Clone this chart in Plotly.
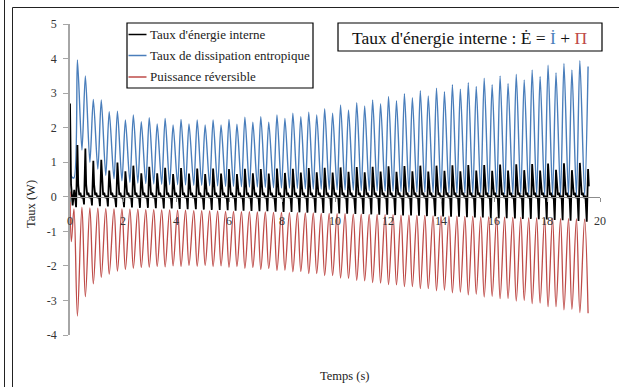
import plotly.graph_objects as go

# ---------------- data ----------------
# time (s) of each oscillation peak
cycle_t = [0.28, 0.58, 0.88, 1.18, 1.48, 1.79, 2.09, 2.39, 2.69, 2.99,
           3.29, 3.59, 3.89, 4.19, 4.49, 4.80, 5.10, 5.40, 5.70, 6.00,
           6.30, 6.60, 6.90, 7.20, 7.50, 7.81, 8.11, 8.41, 8.71, 9.01,
           9.31, 9.61, 9.91, 10.21, 10.51, 10.82, 11.12, 11.42, 11.72, 12.02,
           12.32, 12.62, 12.92, 13.22, 13.52, 13.83, 14.13, 14.43, 14.73, 15.03,
           15.33, 15.63, 15.93, 16.23, 16.53, 16.84, 17.14, 17.44, 17.74, 18.04,
           18.34, 18.64, 18.94, 19.24, 19.55]

# Taux de dissipation entropique (blue): peak and preceding trough per cycle
blue_peak = [3.96, 3.50, 2.82, 2.80, 2.46, 2.48, 2.22, 2.37, 2.17, 2.29,
             2.11, 2.27, 2.08, 2.24, 2.11, 2.22, 2.08, 2.22, 2.08, 2.24,
             2.10, 2.30, 2.16, 2.32, 2.16, 2.37, 2.27, 2.42, 2.32, 2.45,
             2.37, 2.55, 2.42, 2.66, 2.51, 2.72, 2.63, 2.80, 2.69, 2.90,
             2.78, 2.98, 2.87, 3.07, 2.92, 3.14, 3.04, 3.24, 3.11, 3.30,
             3.19, 3.43, 3.24, 3.50, 3.28, 3.55, 3.38, 3.67, 3.48, 3.81,
             3.59, 3.86, 3.67, 3.94, 3.77]
blue_trough = [0.55, 1.35, 1.00, 0.80, 0.62, 0.52, 0.46, 0.42, 0.40, 0.38,
               0.37, 0.36, 0.35, 0.35, 0.34, 0.33, 0.33, 0.32, 0.31, 0.30,
               0.30, 0.29, 0.28, 0.28, 0.27, 0.26, 0.25, 0.25, 0.24, 0.23,
               0.22, 0.22, 0.21, 0.20, 0.20, 0.19, 0.18, 0.18, 0.17, 0.16,
               0.16, 0.15, 0.14, 0.14, 0.13, 0.12, 0.12, 0.11, 0.10, 0.10,
               0.09, 0.09, 0.08, 0.08, 0.07, 0.07, 0.07, 0.06, 0.06, 0.06,
               0.05, 0.05, 0.05, 0.05, 0.05]

# Puissance réversible (red): trough and preceding peak per cycle
red_trough = [-3.45, -2.89, -2.52, -2.33, -2.24, -2.15, -2.10, -2.07, -2.05, -2.04,
              -2.02, -2.03, -2.00, -2.02, -1.99, -2.01, -1.99, -2.02, -2.00, -2.04,
              -2.02, -2.07, -2.05, -2.10, -2.08, -2.13, -2.12, -2.17, -2.16, -2.22,
              -2.22, -2.28, -2.28, -2.35, -2.36, -2.42, -2.43, -2.48, -2.50, -2.54,
              -2.55, -2.60, -2.60, -2.66, -2.66, -2.72, -2.70, -2.78, -2.76, -2.84,
              -2.82, -2.90, -2.88, -2.95, -2.94, -3.02, -3.00, -3.09, -3.08, -3.18,
              -3.18, -3.27, -3.26, -3.35, -3.37]
red_peak = [-0.35, -0.30, -0.32, -0.33, -0.34, -0.35, -0.35, -0.36, -0.36, -0.37,
            -0.37, -0.38, -0.38, -0.39, -0.39, -0.40, -0.40, -0.41, -0.41, -0.42,
            -0.42, -0.43, -0.43, -0.44, -0.44, -0.45, -0.45, -0.46, -0.46, -0.47,
            -0.47, -0.48, -0.48, -0.49, -0.49, -0.50, -0.50, -0.51, -0.51, -0.52,
            -0.52, -0.53, -0.53, -0.54, -0.54, -0.55, -0.55, -0.56, -0.56, -0.57,
            -0.57, -0.58, -0.58, -0.59, -0.59, -0.60, -0.60, -0.61, -0.61, -0.62,
            -0.62, -0.63, -0.63, -0.64, -0.65]

# Taux d'énergie interne (black): spike peak and preceding minimum per cycle
black_peak = [1.50, 1.40, 1.04, 1.07, 0.76, 0.99, 0.74, 0.90, 0.68, 0.87,
              0.68, 0.84, 0.66, 0.83, 0.67, 0.82, 0.66, 0.82, 0.67, 0.80,
              0.66, 0.81, 0.68, 0.80, 0.67, 0.82, 0.69, 0.81, 0.70, 0.83,
              0.71, 0.84, 0.70, 0.85, 0.72, 0.86, 0.71, 0.87, 0.73, 0.88,
              0.72, 0.89, 0.74, 0.90, 0.73, 0.90, 0.75, 0.91, 0.74, 0.92,
              0.76, 0.92, 0.75, 0.93, 0.76, 0.94, 0.77, 0.95, 0.76, 0.96,
              0.78, 0.97, 0.77, 0.98, 0.80]
black_min = [-0.30, -0.22, -0.25, -0.27, -0.28, -0.30, -0.30, -0.31, -0.32, -0.32,
             -0.33, -0.34, -0.34, -0.35, -0.36, -0.36, -0.37, -0.38, -0.38, -0.39,
             -0.40, -0.40, -0.41, -0.42, -0.42, -0.43, -0.44, -0.44, -0.45, -0.46,
             -0.46, -0.47, -0.48, -0.48, -0.49, -0.50, -0.50, -0.51, -0.52, -0.52,
             -0.53, -0.54, -0.54, -0.55, -0.56, -0.56, -0.57, -0.58, -0.58, -0.59,
             -0.60, -0.60, -0.61, -0.62, -0.62, -0.63, -0.64, -0.64, -0.65, -0.66,
             -0.67, -0.68, -0.69, -0.70, -0.72]
# typical small ripple of the black curve after each spike
black_ripple = [0.35, 0.05, 0.12, -0.04, 0.03]

# start of the record (t = 0)
blue_start_t, blue_start = [0.0, 0.05], [2.40, 0.60]
red_start_t, red_start = [0.0, 0.05], [0.15, -1.30]
black_start_t, black_start = [0.0, 0.04, 0.10, 0.16], [2.70, 0.35, -0.25, 0.20]

x_ticks = [0, 2, 4, 6, 8, 10, 12, 14, 16, 18, 20]
y_ticks = [5, 4, 3, 2, 1, 0, -1, -2, -3, -4]

# ---------------- build the curves ----------------
RISE = 0.13
MIN_LEAD = 0.05
RIPPLE_OFF = [0.03, 0.07, 0.11, 0.16, 0.21]

bx, by = list(blue_start_t), list(blue_start)
rx, ry = list(red_start_t), list(red_start)
kx, ky = list(black_start_t), list(black_start)
n_cyc = len(cycle_t)
for i, t in enumerate(cycle_t):
    bx += [t - RISE, t]; by += [blue_trough[i], blue_peak[i]]
    rx += [t - RISE, t]; ry += [red_peak[i], red_trough[i]]
    kx += [t - MIN_LEAD, t]; ky += [black_min[i], black_peak[i]]
    if i < n_cyc - 1:
        kx += [t + o for o in RIPPLE_OFF]; ky += black_ripple
    else:
        kx += [t + 0.03]; ky += [0.30]

BLUE = "#4A7EBB"
RED = "#BE4B48"
FONT = "'Liberation Serif', 'Times New Roman', 'DejaVu Serif', serif"

fig = go.Figure()
fig.add_trace(go.Scatter(x=rx, y=ry, mode="lines", name="Puissance réversible",
                         line=dict(color=RED, width=1.3, shape="spline", smoothing=1.0)))
fig.add_trace(go.Scatter(x=bx, y=by, mode="lines", name="Taux de dissipation entropique",
                         line=dict(color=BLUE, width=1.4, shape="spline", smoothing=0.8)))
fig.add_trace(go.Scatter(x=kx, y=ky, mode="lines", name="Taux d'énergie interne",
                         line=dict(color="black", width=1.8)))

L, R, T, B = 70, 19, 24, 52
W, H = 619, 387
PW, PH = W - L - R, H - T - B


def px(x):
    return (x - L) / PW


def py(y):
    return (H - B - y) / PH


shapes = []
# outer frame
shapes.append(dict(type="line", xref="paper", yref="paper", x0=px(4.5), x1=px(4.5),
                   y0=py(-2), y1=py(390), line=dict(color="#222", width=1)))
shapes.append(dict(type="line", xref="paper", yref="paper", x0=px(12.5), x1=px(12.5),
                   y0=py(7.5), y1=py(390), line=dict(color="#222", width=1)))
shapes.append(dict(type="line", xref="paper", yref="paper", x0=px(12.5), x1=px(625),
                   y0=py(7.5), y1=py(7.5), line=dict(color="#222", width=1)))
# legend box
shapes.append(dict(type="rect", xref="paper", yref="paper", x0=px(127), x1=px(313),
                   y0=py(88), y1=py(23), line=dict(color="black", width=1.2),
                   fillcolor="white", layer="above"))
# title box
shapes.append(dict(type="rect", xref="paper", yref="paper", x0=px(338), x1=px(602),
                   y0=py(51), y1=py(23), line=dict(color="black", width=1.2),
                   fillcolor="white", layer="above"))

legend_items = [("Taux d'énergie interne", "black", 34.5),
                ("Taux de dissipation entropique", BLUE, 55.5),
                ("Puissance réversible", RED, 77)]
annotations = []
for text, col, yy in legend_items:
    shapes.append(dict(type="line", xref="paper", yref="paper", x0=px(128.5), x1=px(146.5),
                       y0=py(yy), y1=py(yy), line=dict(color=col, width=1.5), layer="above"))
    annotations.append(dict(x=px(147.5), y=py(yy), xref="paper", yref="paper", text=text,
                            showarrow=False, xanchor="left", yanchor="middle",
                            font=dict(family=FONT, size=13, color="#222")))

annotations.append(dict(
    x=px(470), y=py(38), xref="paper", yref="paper", showarrow=False,
    xanchor="center", yanchor="middle",
    text=("Taux d'énergie interne : Ė = <span style='color:%s'>İ</span> + "
          "<span style='color:%s'>Π</span>") % (BLUE, RED),
    font=dict(family=FONT, size=17.5, color="#111")))
annotations.append(dict(x=px(344), y=py(376), xref="paper", yref="paper", text="Temps (s)",
                        showarrow=False, xanchor="center", yanchor="middle",
                        font=dict(family=FONT, size=12.5, color="#222")))
annotations.append(dict(x=px(31), y=py(204), xref="paper", yref="paper", text="Taux (W)",
                        showarrow=False, xanchor="center", yanchor="middle", textangle=-90,
                        font=dict(family=FONT, size=12.5, color="#222")))

fig.update_layout(
    width=W, height=H, margin=dict(l=L, r=R, t=T, b=B),
    paper_bgcolor="white", plot_bgcolor="white", showlegend=False,
    font=dict(family=FONT),
    shapes=shapes, annotations=annotations,
    xaxis=dict(range=[0, 20], tickmode="array", tickvals=x_ticks,
               ticktext=[str(v) for v in x_ticks], ticks="outside", ticklen=4,
               tickcolor="#8C8C8C", showline=True, linecolor="#8C8C8C", linewidth=1,
               anchor="free", position=4 / 9, showgrid=False, zeroline=False,
               ticklabelstandoff=9, tickfont=dict(family=FONT, size=12, color="#333")),
    yaxis=dict(range=[-4, 5], tickmode="array", tickvals=y_ticks,
               ticktext=[str(v) for v in y_ticks], ticks="outside", ticklen=5,
               tickcolor="#A6A6A6", showline=True, linecolor="#A6A6A6", linewidth=1.6,
               showgrid=False, zeroline=False, ticklabelstandoff=4,
               tickfont=dict(family=FONT, size=12, color="#333")),
)

fig.write_html("out.html", config={"displayModeBar": False},
               post_script="document.body.style.margin='0px';"
                           "document.body.style.overflow='hidden';")
